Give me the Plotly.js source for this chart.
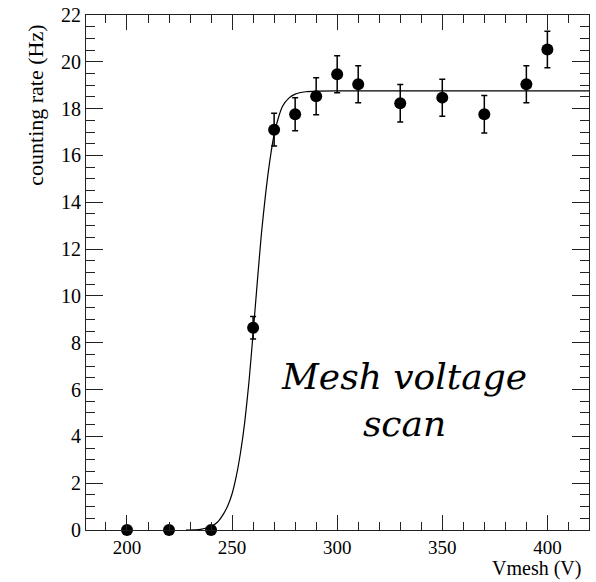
<!DOCTYPE html>
<html>
<head>
<meta charset="utf-8">
<script src="https://cdn.plot.ly/plotly-3.0.1.min.js"></script>
<style>html,body{margin:0;padding:0;background:#fff;}#chart{width:596px;height:582px;}</style>
</head>
<body>
<div id="chart"></div>
<script>
// Measured data points
const vmesh = [200, 220, 240, 260, 270, 280, 290, 300, 310, 330, 350, 370, 390, 400];
const rate = [0, 0, 0, 8.64, 17.1, 17.76, 18.53, 19.47, 19.04, 18.23, 18.47, 17.76, 19.04, 20.53];
const rateErr = [0, 0, 0, 0.48, 0.7, 0.7, 0.79, 0.79, 0.79, 0.8, 0.79, 0.8, 0.79, 0.78];

// Fit curve
const fitX = [228, 235, 240, 243, 246, 248, 250, 252, 254, 256, 258, 260, 262, 264, 266, 268, 270, 272, 274, 277, 280, 285, 290, 300, 420];
const fitY = [0, 0.03, 0.15, 0.33, 0.7, 1.05, 1.55, 2.3, 3.3, 4.6, 6.3, 8.4, 10.6, 12.7, 14.4, 15.8, 16.9, 17.6, 18.1, 18.45, 18.62, 18.72, 18.75, 18.76, 18.76];

const xTitle = 'Vmesh (V)';
const yTitle = 'counting rate (Hz)';
const label = 'Mesh voltage<br>scan';

const FONT = 'Liberation Serif';

const traces = [
  {
    x: fitX, y: fitY, type: 'scatter', mode: 'lines',
    line: {color: '#000', width: 1.2, shape: 'spline', smoothing: 0.6},
    hoverinfo: 'skip', showlegend: false
  },
  {
    x: vmesh, y: rate, type: 'scatter', mode: 'markers',
    marker: {color: '#000', size: 12, symbol: 'circle'},
    error_y: {type: 'data', array: rateErr, visible: true, color: '#000', thickness: 1.5, width: 3},
    cliponaxis: false, showlegend: false
  }
];

const axisCommon = {
  showgrid: false, zeroline: false, showline: true, linecolor: '#222', linewidth: 1,
  mirror: 'ticks', ticks: 'inside', tickcolor: '#222', tickwidth: 1,
  tickfont: {family: FONT, size: 20, color: '#000'}
};

const layout = {
  width: 596, height: 582,
  margin: {l: 86, r: 7, t: 15, b: 52},
  paper_bgcolor: '#fff', plot_bgcolor: '#fff',
  font: {family: FONT, color: '#000'},
  xaxis: Object.assign({}, axisCommon, {
    range: [180.5, 419.8], dtick: 50, tick0: 0, ticklen: 15,
    tickfont: {family: FONT, size: 19, color: '#000'},
    minor: {dtick: 10, ticklen: 8, ticks: 'inside', tickcolor: '#222', tickwidth: 1, showgrid: false}
  }),
  yaxis: Object.assign({}, axisCommon, {
    range: [0, 22], dtick: 2, tick0: 0, ticklen: 17,
    minor: {dtick: 0.5, ticklen: 9, ticks: 'inside', tickcolor: '#222', tickwidth: 1, showgrid: false}
  }),
  annotations: [
    {text: xTitle, xref: 'paper', yref: 'paper', x: 0.988, y: -0.1, xanchor: 'right', yanchor: 'bottom',
     showarrow: false, font: {family: FONT, size: 20, color: '#000'}},
    {text: yTitle, xref: 'paper', yref: 'paper', x: -0.0994, y: 0.984, xanchor: 'center', yanchor: 'top',
     textangle: -90, showarrow: false, font: {family: FONT, size: 22, color: '#000'}},
    {text: label, xref: 'paper', yref: 'paper', x: 0.632, y: 0.252, xanchor: 'center', yanchor: 'middle',
     showarrow: false, font: {family: 'DejaVu Serif', size: 36, color: '#000', style: 'italic'}}
  ]
};

Plotly.newPlot('chart', traces, layout, {displayModeBar: false, staticPlot: true});
</script>
</body>
</html>
